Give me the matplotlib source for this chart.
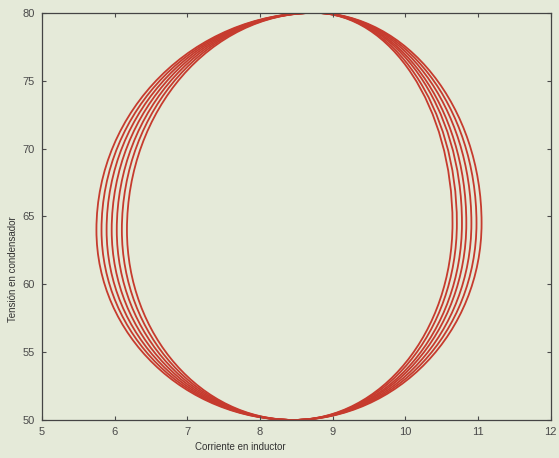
import matplotlib
matplotlib.use("Agg")
import matplotlib.pyplot as plt
from matplotlib.path import Path
from matplotlib.patches import PathPatch

# Data
top_x, top_y = 8.75, 80.0          # shared tangent point at the top
bottom_x, bottom_y = 8.46, 50.0    # shared tangent point at the bottom
left_y, right_y = 64.0, 64.5       # heights of the leftmost / rightmost points
left_x = [5.75, 5.82, 5.89, 5.96, 6.03, 6.10, 6.17]
right_x = [11.05, 10.98, 10.91, 10.84, 10.78, 10.71, 10.65]

x_ticks = [5, 6, 7, 8, 9, 10, 11, 12]
y_ticks = [50, 55, 60, 65, 70, 75, 80]
x_label = "Corriente en inductor"
y_label = "Tensión en condensador"

bg = "#e5ead9"
line_color = "#c63b2e"
plt.rcParams['font.family'] = ['Liberation Sans', 'DejaVu Sans']

fig = plt.figure(figsize=(5.59, 4.58), dpi=100, facecolor=bg)
ax = fig.add_axes([0.075, 0.083, 0.91, 0.889])
ax.set_facecolor(bg)

k = 0.5523
for L, R in zip(left_x, right_x):
    tx, ty, bx, by = top_x, top_y, bottom_x, bottom_y
    verts = [
        (tx, ty),
        (tx + k * (R - tx), ty), (R, right_y + k * (ty - right_y)), (R, right_y),
        (R, right_y - k * (right_y - by)), (bx + k * (R - bx), by), (bx, by),
        (bx - k * (bx - L), by), (L, left_y - k * (left_y - by)), (L, left_y),
        (L, left_y + k * (ty - left_y)), (tx - k * (tx - L), ty), (tx, ty),
    ]
    codes = [Path.MOVETO] + [Path.CURVE4] * 12
    ax.add_patch(PathPatch(Path(verts, codes), facecolor='none',
                           edgecolor=line_color, lw=1.3))

ax.set_xlim(5, 12)
ax.set_ylim(50, 80)
ax.set_xticks(x_ticks)
ax.set_yticks(y_ticks)
ax.tick_params(direction='in', top=True, right=True, length=3, width=0.8,
               labelsize=8, colors='#4a4a4a', pad=5)
for s in ax.spines.values():
    s.set_color('#444444')
    s.set_linewidth(0.9)

ax.set_xlabel(x_label, fontsize=7, color='#333333')
ax.xaxis.set_label_coords(0.39, -0.055)
ax.set_ylabel(y_label, fontsize=7, color='#333333')
ax.yaxis.set_label_coords(-0.047, 0.37)

fig.savefig("out.png", dpi=100, facecolor=bg)
